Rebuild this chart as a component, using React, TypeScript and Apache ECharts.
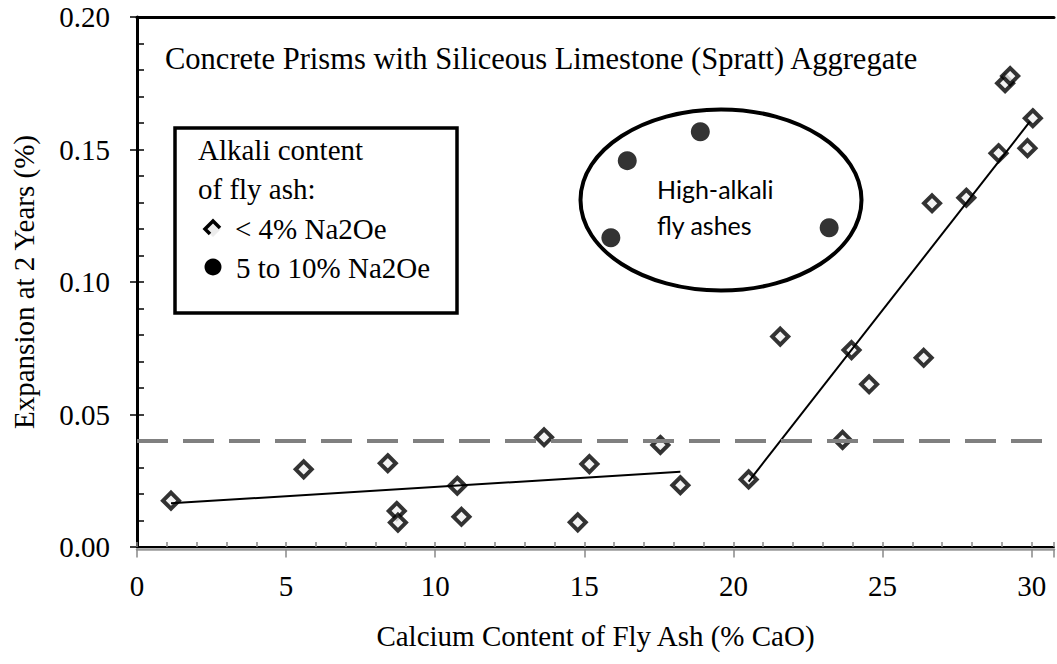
import React, { useEffect, useRef } from "react";
import * as echarts from "echarts";

// ---- Data ----
const LOW_NAME = "< 4% Na2Oe";
const HIGH_NAME = "5 to 10% Na2Oe";

const lowAlkaliCaO = [1.14, 5.59, 8.41, 8.71, 8.75, 10.74, 10.88, 13.65, 14.78, 15.17, 17.55, 18.22, 20.51, 21.57, 23.66, 23.96, 24.55, 26.38, 26.66, 27.81, 28.89, 29.11, 29.28, 29.86, 30.04];
const lowAlkaliExpansion = [0.0175, 0.0293, 0.0316, 0.0136, 0.0092, 0.0231, 0.0114, 0.0414, 0.0093, 0.0313, 0.0385, 0.0233, 0.0255, 0.0794, 0.0404, 0.0743, 0.0614, 0.0714, 0.1297, 0.1318, 0.1486, 0.175, 0.1777, 0.1505, 0.1618];

const highAlkaliCaO = [15.89, 16.44, 18.89, 23.21];
const highAlkaliExpansion = [0.1167, 0.1458, 0.1567, 0.1205];

const trendLowCaO = [1.14, 18.22];
const trendLowExpansion = [0.0165, 0.0284];
const trendHighCaO = [20.51, 29.94];
const trendHighExpansion = [0.0247, 0.1605];

const LIMIT = 0.04;

const X_MIN = 0;
const X_MAX = 30.75;
const Y_MIN = 0;
const Y_MAX = 0.2;

const TITLE = "Concrete Prisms with Siliceous Limestone (Spratt) Aggregate";
const X_NAME = "Calcium Content of Fly Ash (% CaO)";
const Y_NAME = "Expansion at 2 Years (%)";
const LEGEND_HEAD = ["Alkali content", "of fly ash:"];
const ELLIPSE_TEXT = ["High-alkali", "fly ashes"];

const SERIF = '"Liberation Serif", "Times New Roman", serif';

const zip = (xs: number[], ys: number[]) => xs.map((x, i) => [x, ys[i]]);

export default function App() {
  const ref = useRef<HTMLDivElement>(null);

  useEffect(() => {
    const chart = echarts.init(ref.current!, null, { renderer: "svg" });

    const serifText = (size: number) => ({
      fontFamily: SERIF,
      fontSize: size,
      color: "#000",
    });

    const xBase = { type: "value", min: X_MIN, max: X_MAX, position: "bottom" } as any;

    const option: any = {
      animation: false,
      backgroundColor: "#fff",
      grid: { left: 137, right: 0, top: 17, bottom: 117, containLabel: false },
      xAxis: [
        {
          ...xBase,
          interval: 1,
          axisLine: { show: true, onZero: false, lineStyle: { color: "#000", width: 2 } },
          axisTick: { show: true, inside: true, length: 5, lineStyle: { color: "#888", width: 1.5 } },
          axisLabel: { show: false },
          splitLine: { show: false },
        },
        {
          ...xBase,
          interval: 5,
          offset: 2.5,
          axisLine: { show: true, onZero: false, lineStyle: { color: "#999", width: 2.5 } },
          axisTick: { show: true, inside: false, length: 8, lineStyle: { color: "#888", width: 1.5 } },
          axisLabel: {
            show: true,
            margin: 22,
            ...serifText(29),
            formatter: (v: number) => (Math.abs(v % 5) < 1e-9 ? String(v) : ""),
          },
          splitLine: { show: false },
          name: X_NAME,
          nameLocation: "middle",
          nameGap: 72,
          nameTextStyle: serifText(29),
        },
        {
          ...xBase,
          position: "top",
          axisLine: { show: true, onZero: false, lineStyle: { color: "#000", width: 3 } },
          axisTick: { show: false },
          axisLabel: { show: false },
          splitLine: { show: false },
        },
      ],
      yAxis: [
        {
          type: "value",
          min: Y_MIN,
          max: Y_MAX,
          interval: 0.01,
          position: "left",
          axisLine: { show: true, onZero: false, lineStyle: { color: "#000", width: 3 } },
          axisTick: { show: true, inside: true, length: 7, lineStyle: { color: "#000", width: 1.5 } },
          axisLabel: { show: false },
          splitLine: { show: false },
        },
        {
          type: "value",
          min: Y_MIN,
          max: Y_MAX,
          interval: 0.05,
          position: "left",
          axisLine: { show: false, onZero: false },
          axisTick: { show: true, inside: false, length: 7, lineStyle: { color: "#000", width: 1.5 } },
          axisLabel: {
            show: true,
            margin: 27,
            ...serifText(29),
            formatter: (v: number) => v.toFixed(2),
          },
          splitLine: { show: false },
          name: Y_NAME,
          nameLocation: "middle",
          nameGap: 99,
          nameTextStyle: serifText(29),
        },
      ],
      series: [
        {
          type: "line",
          name: "limit",
          data: [],
          z: 1,
          silent: true,
          markLine: {
            silent: true,
            symbol: ["none", "none"],
            label: { show: false },
            lineStyle: { color: "#808080", width: 4, type: [31, 15] },
            emphasis: { disabled: true },
            data: [{ yAxis: LIMIT }],
          },
        },
        {
          type: "scatter",
          name: LOW_NAME,
          data: zip(lowAlkaliCaO, lowAlkaliExpansion),
          symbol: "diamond",
          symbolSize: 16,
          itemStyle: { color: "#f0f0f0", borderColor: "#000", borderWidth: 4 },
          z: 2,
          silent: true,
        },
        {
          type: "scatter",
          name: HIGH_NAME,
          data: zip(highAlkaliCaO, highAlkaliExpansion),
          symbol: "circle",
          symbolSize: 19,
          itemStyle: { color: "#000" },
          z: 2,
          silent: true,
        },
        {
          type: "line",
          name: "trend-low",
          data: zip(trendLowCaO, trendLowExpansion),
          symbol: "none",
          lineStyle: { color: "#000", width: 2 },
          z: 3,
          silent: true,
        },
        {
          type: "line",
          name: "trend-high",
          data: zip(trendHighCaO, trendHighExpansion),
          symbol: "none",
          lineStyle: { color: "#000", width: 2 },
          z: 3,
          silent: true,
        },
      ],
      graphic: [
        {
          type: "text",
          x: 165,
          y: 59,
          style: { text: TITLE, font: `30.5px ${SERIF}`, fill: "#000", verticalAlign: "middle" },
        },
        // legend box
        {
          type: "rect",
          shape: { x: 175, y: 128, width: 282, height: 185 },
          style: { fill: "#fff", stroke: "#000", lineWidth: 3.5 },
          z: 10,
        },
        {
          type: "text",
          x: 198,
          y: 150,
          z: 11,
          style: { text: LEGEND_HEAD[0], font: `29px ${SERIF}`, fill: "#000", verticalAlign: "middle" },
        },
        {
          type: "text",
          x: 198,
          y: 189,
          z: 11,
          style: { text: LEGEND_HEAD[1], font: `29px ${SERIF}`, fill: "#000", verticalAlign: "middle" },
        },
        {
          type: "polygon",
          z: 11,
          shape: { points: [[213, 221], [221, 229], [213, 237], [205, 229]] },
          style: { fill: "#ececec", stroke: "none" },
        },
        {
          type: "polyline",
          z: 12,
          shape: { points: [[210, 234], [205, 229], [213, 221], [220, 228]] },
          style: { stroke: "#000", lineWidth: 3.5, fill: "none" },
        },
        {
          type: "text",
          x: 235,
          y: 229,
          z: 11,
          style: { text: LOW_NAME, font: `29px ${SERIF}`, fill: "#000", verticalAlign: "middle" },
        },
        {
          type: "circle",
          z: 11,
          shape: { cx: 213, cy: 267, r: 8.5 },
          style: { fill: "#000" },
        },
        {
          type: "text",
          x: 236,
          y: 268,
          z: 11,
          style: { text: HIGH_NAME, font: `29px ${SERIF}`, fill: "#000", verticalAlign: "middle" },
        },
        // ellipse annotation
        {
          type: "ellipse",
          shape: { cx: 721, cy: 200, rx: 140.5, ry: 90.5 },
          style: { fill: "none", stroke: "#000", lineWidth: 4 },
          z: 1,
        },
        {
          type: "text",
          x: 657,
          y: 189,
          style: { text: ELLIPSE_TEXT[0], font: "25px Lato, sans-serif", fill: "#000", verticalAlign: "middle" },
        },
        {
          type: "text",
          x: 657,
          y: 225,
          style: { text: ELLIPSE_TEXT[1], font: "25px Lato, sans-serif", fill: "#000", verticalAlign: "middle" },
        },
      ],
    };

    chart.setOption(option);
    return () => chart.dispose();
  }, []);

  return (
    <div
      ref={ref}
      style={{ position: "absolute", left: 0, top: 0, width: 1057, height: 664, background: "#fff" }}
    />
  );
}
